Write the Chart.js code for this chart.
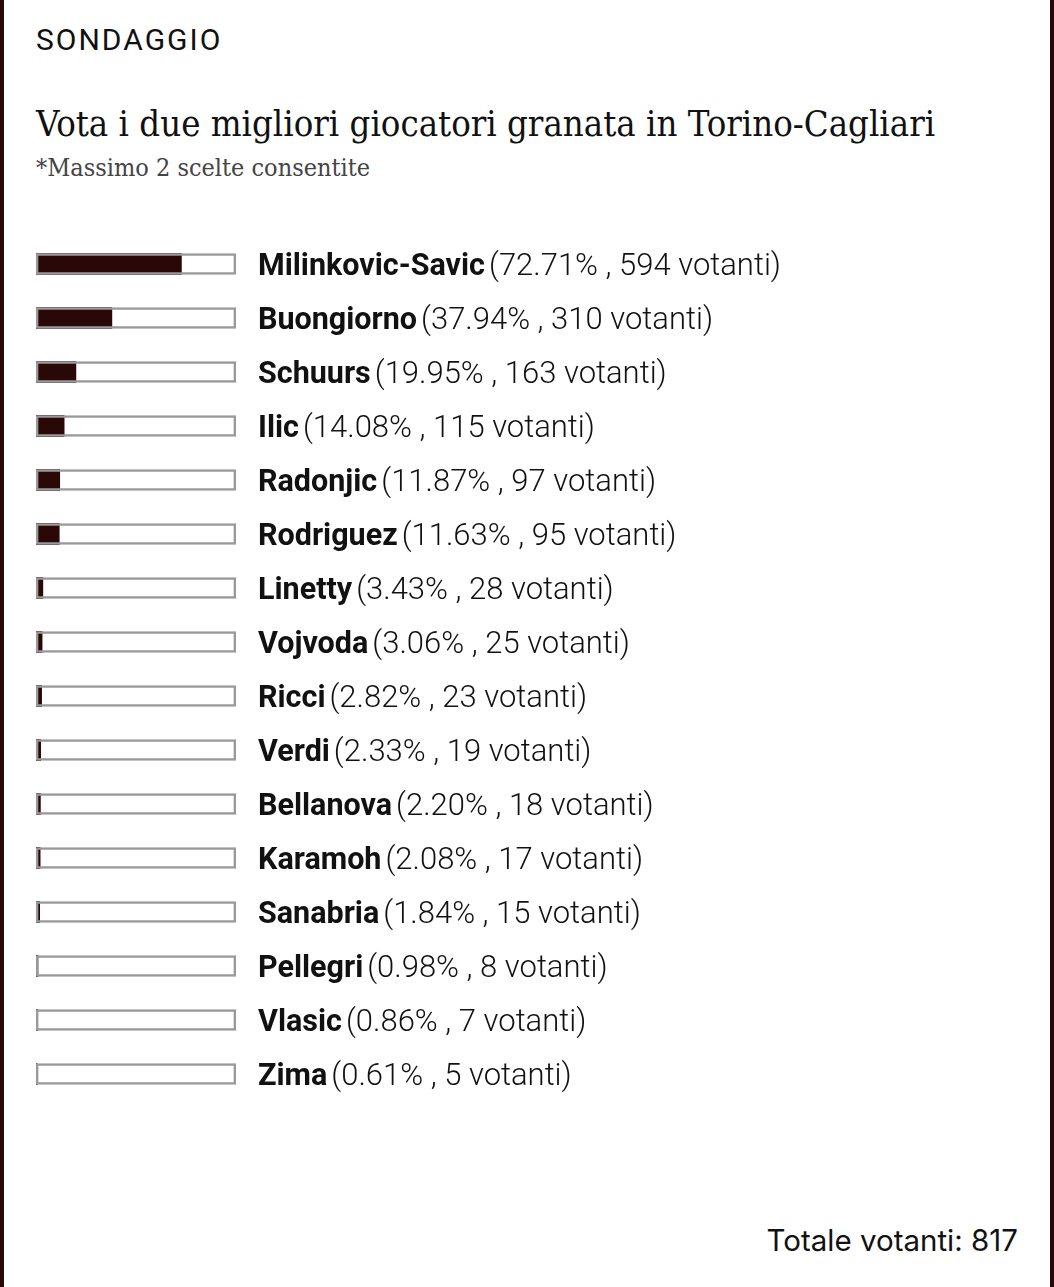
<!DOCTYPE html>
<html>
<head>
<meta charset="utf-8">
<script src="https://cdn.jsdelivr.net/npm/chart.js@4/dist/chart.umd.min.js"></script>
<style>
  html, body { margin: 0; padding: 0; background: #fff; }
  body { width: 1054px; height: 1287px; position: relative; overflow: hidden; }
  .frame { position: absolute; top: 0; bottom: 0; width: 4px; background: #2b0808; }
  #kicker { position: absolute; left: 36px; top: 22px; font: 400 30px Roboto, sans-serif; color: #111; letter-spacing: 2px; }
  #title { position: absolute; left: 36px; top: 102px; font: 400 36.2px "DejaVu Serif Condensed", "DejaVu Serif", serif; font-stretch: condensed; color: #111; }
  #sub { position: absolute; left: 36px; top: 153px; font: 400 25px "DejaVu Serif Condensed", "DejaVu Serif", serif; font-stretch: condensed; color: #444; }
  #total { position: absolute; right: 36px; top: 1222px; font: 400 29.5px Inter, sans-serif; color: #111; }
  #wrap { position: absolute; left: 0; top: 200px; width: 1054px; height: 940px; }
</style>
</head>
<body>
<div class="frame" style="left:0"></div>
<div class="frame" style="right:0"></div>
<div id="kicker">SONDAGGIO</div>
<div id="title">Vota i due migliori giocatori granata in Torino-Cagliari</div>
<div id="sub">*Massimo 2 scelte consentite</div>
<div id="wrap"><canvas id="poll"></canvas></div>
<div id="total">Totale votanti: 817</div>
<script>
const players = ['Milinkovic-Savic', 'Buongiorno', 'Schuurs', 'Ilic', 'Radonjic', 'Rodriguez', 'Linetty', 'Vojvoda',
  'Ricci', 'Verdi', 'Bellanova', 'Karamoh', 'Sanabria', 'Pellegri', 'Vlasic', 'Zima'];
const percents = [72.71, 37.94, 19.95, 14.08, 11.87, 11.63, 3.43, 3.06, 2.82, 2.33, 2.20, 2.08, 1.84, 0.98, 0.86, 0.61];
const votes = [594, 310, 163, 115, 97, 95, 28, 25, 23, 19, 18, 17, 15, 8, 7, 5];
const fullScale = players.map(() => 100);

// testo accanto a ogni barra: nome in grassetto + percentuale e voti
const labelPlugin = {
  id: 'pollLabels',
  afterDatasetsDraw(chart) {
    const ctx = chart.ctx;
    const yScale = chart.scales.y;
    const x0 = chart.chartArea.right + 22;
    ctx.save();
    ctx.textBaseline = 'alphabetic';
    ctx.fillStyle = '#111';
    players.forEach((name, i) => {
      const y = yScale.getPixelForValue(i) + 10.5;
      ctx.font = '700 30.5px Roboto, sans-serif';
      ctx.fillText(name, x0, y);
      const w = ctx.measureText(name).width;
      ctx.font = '300 31px Roboto, sans-serif';
      ctx.fillText('(' + percents[i].toFixed(2) + '% , ' + votes[i] + ' votanti)', x0 + w + 4, y);
    });
    ctx.restore();
  }
};

new Chart(document.getElementById('poll'), {
  type: 'bar',
  data: {
    labels: players,
    datasets: [
      {
        data: percents,
        backgroundColor: '#2b0808',
        borderWidth: 0,
        barThickness: 21,
        grouped: false,
        order: 2
      },
      {
        data: fullScale,
        backgroundColor: 'rgba(0,0,0,0)',
        borderColor: '#999',
        borderWidth: 2,
        borderSkipped: false,
        barThickness: 21,
        grouped: false,
        order: 1
      }
    ]
  },
  options: {
    indexAxis: 'y',
    responsive: true,
    maintainAspectRatio: false,
    animation: false,
    layout: { padding: { left: 36, right: 818, top: 37, bottom: 39 } },
    plugins: { legend: { display: false }, tooltip: { enabled: false } },
    scales: {
      x: { display: false, min: 0, max: 100 },
      y: { display: false }
    }
  },
  plugins: [labelPlugin]
});
</script>
</body>
</html>
